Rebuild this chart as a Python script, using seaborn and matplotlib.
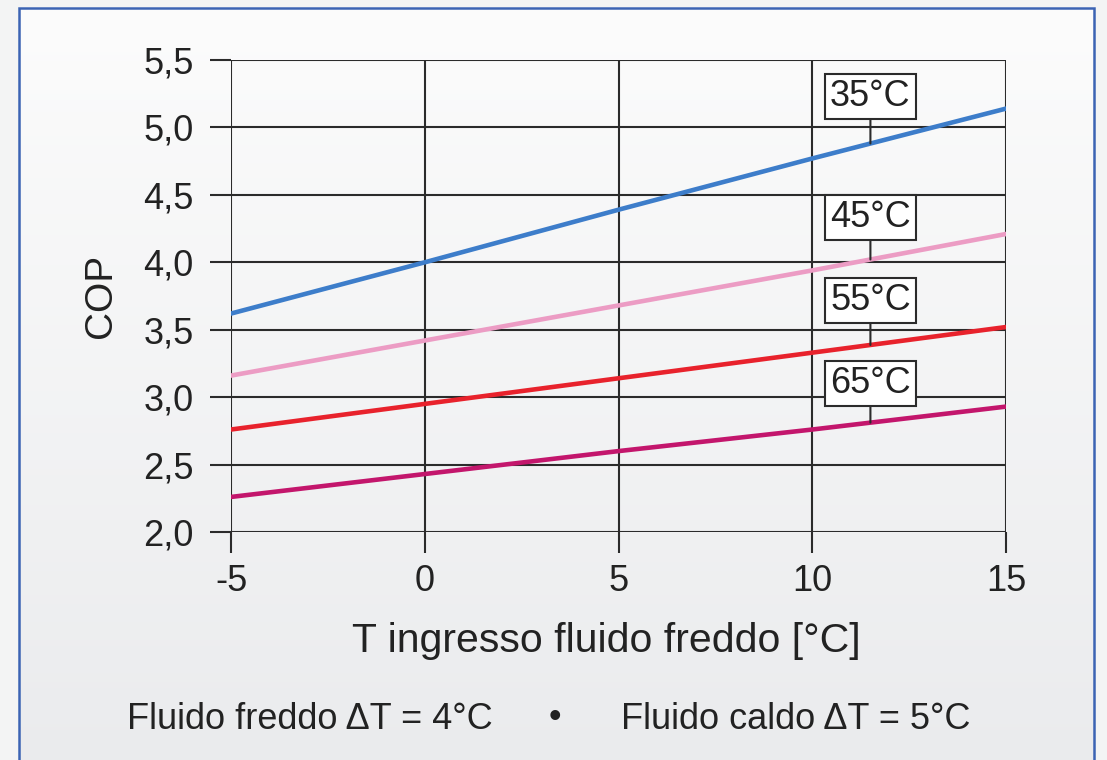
import numpy as np
import pandas as pd
import matplotlib
matplotlib.use("Agg")
import matplotlib.pyplot as plt
from matplotlib.patches import Rectangle
import seaborn as sns

# -------------------
# DATA
# -------------------
t_in = [-5, 0, 5, 10, 15]
cop_35 = [3.62, 4.00, 4.39, 4.77, 5.14]
cop_45 = [3.16, 3.42, 3.68, 3.94, 4.21]
cop_55 = [2.76, 2.95, 3.14, 3.33, 3.52]
cop_65 = [2.26, 2.43, 2.60, 2.76, 2.93]
series_names = ["35°C", "45°C", "55°C", "65°C"]
label_y = [5.23, 4.33, 3.72, 3.10]
label_x = 11.5
x_ticks = [-5, 0, 5, 10, 15]
y_ticks = [2.0, 2.5, 3.0, 3.5, 4.0, 4.5, 5.0, 5.5]

colors = ["#3d7dca", "#ec9cc4", "#e8222c", "#c3166c"]

df = pd.DataFrame({
    "T": t_in * 4,
    "COP": cop_35 + cop_45 + cop_55 + cop_65,
    "serie": np.repeat(series_names, len(t_in)),
})

# -------------------
# FIGURE
# -------------------
sns.set_style("white")
plt.rcParams["font.family"] = ["Liberation Sans", "DejaVu Sans"]

fig = plt.figure(figsize=(11.07, 7.6), dpi=100)
fig.patch.set_facecolor("#f3f4f4")

# background panel with soft gradient and blue frame
bg = fig.add_axes([0, 0, 1, 1], zorder=-10)
bg.set_xlim(0, 1)
bg.set_ylim(0, 1)
bg.axis("off")
grad = np.linspace(0, 1, 256).reshape(-1, 1)
bg.imshow(grad, extent=[0.0172, 0.988, -0.02, 0.9895], aspect="auto",
          cmap=matplotlib.colors.LinearSegmentedColormap.from_list("g", ["#eaebed", "#fcfcfc"]),
          origin="lower")
bg.add_patch(Rectangle((0.0172, -0.02), 0.988 - 0.0172, 0.9895 + 0.02,
                       fill=False, edgecolor="#3b63b3", linewidth=1.8))

ax = fig.add_axes([0.2087, 0.3, 0.7001, 0.621])
ax.patch.set_alpha(0)

sns.lineplot(data=df, x="T", y="COP", hue="serie", palette=colors,
             linewidth=3.3, legend=False, ax=ax, zorder=3)

ax.set_xlim(-5, 15)
ax.set_ylim(2.0, 5.5)
ax.set_xticks(x_ticks)
ax.set_yticks(y_ticks)
ax.set_yticklabels([f"{v:.1f}".replace(".", ",") for v in y_ticks])
ax.set_xticklabels([str(v) for v in x_ticks])
ax.grid(True, color="#2b2b2b", linewidth=1.5)
for s in ax.spines.values():
    s.set_visible(False)
ax.tick_params(axis="both", bottom=True, left=True, direction="out",
               length=15, width=1.5, color="#2b2b2b",
               labelsize=26, labelcolor="#222222")
ax.tick_params(axis="y", pad=12)
ax.tick_params(axis="x", pad=8)

ax.set_xlabel("T ingresso fluido freddo [°C]", fontsize=29.5, color="#222222")
ax.xaxis.set_label_coords(0.484, -0.19)
ax.set_ylabel("COP", fontsize=28, color="#222222", labelpad=17)

# temperature labels with stems
all_series = [cop_35, cop_45, cop_55, cop_65]
for name, ys, ly in zip(series_names, all_series, label_y):
    y_line = np.interp(label_x, t_in, ys)
    ax.annotate(name, xy=(label_x, y_line), xytext=(label_x, ly),
                ha="center", va="center", fontsize=26, color="#222222",
                bbox=dict(boxstyle="square,pad=0.14", fc="white", ec="#2b2b2b", lw=1.5),
                arrowprops=dict(arrowstyle="-", color="#2b2b2b", lw=1.5,
                                shrinkA=0, shrinkB=0),
                zorder=5)

# footer
fig.text(0.28, 0.053, "Fluido freddo ΔT = 4°C", ha="center", va="center",
         fontsize=26, color="#222222")
fig.text(0.501, 0.056, "•", ha="center", va="center", fontsize=26, color="#222222")
fig.text(0.719, 0.053, "Fluido caldo ΔT = 5°C", ha="center", va="center",
         fontsize=26, color="#222222")

fig.savefig("out.png", dpi=100, facecolor=fig.get_facecolor())
